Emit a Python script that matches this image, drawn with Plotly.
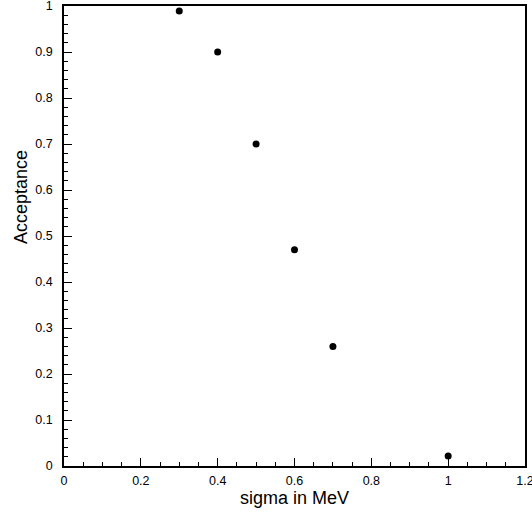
import plotly.graph_objects as go

sigma = [0.3, 0.4, 0.5, 0.6, 0.7, 1.0]
acceptance = [0.989, 0.90, 0.70, 0.47, 0.26, 0.022]

x_ticks = [0, 0.2, 0.4, 0.6, 0.8, 1, 1.2]
x_ticklabels = ["0", "0.2", "0.4", "0.6", "0.8", "1", "1.2"]
y_ticks = [0, 0.1, 0.2, 0.3, 0.4, 0.5, 0.6, 0.7, 0.8, 0.9, 1]
y_ticklabels = ["0", "0.1", "0.2", "0.3", "0.4", "0.5", "0.6", "0.7", "0.8", "0.9", "1"]
x_title = "sigma in MeV"
y_title = "Acceptance"

fig = go.Figure()
fig.add_trace(go.Scatter(
    x=sigma, y=acceptance, mode="markers",
    marker=dict(color="black", size=7),
    showlegend=False, cliponaxis=False,
))

font = "Liberation Sans, Arial, Helvetica, sans-serif"
axis_common = dict(
    showline=True, linecolor="black", linewidth=1.5, mirror=True,
    showgrid=False, zeroline=False, automargin=False,
    ticks="inside", ticklen=8, tickwidth=1.2, tickcolor="black",
    ticklabeloverflow="allow",
    tickfont=dict(family=font, size=12.5, color="black"),
)

fig.update_layout(
    width=532, height=514,
    margin=dict(l=64, r=7, t=6, b=48),
    paper_bgcolor="white", plot_bgcolor="white",
    font=dict(family=font, color="black"),
    xaxis=dict(
        range=[0, 1.2], tickvals=x_ticks, ticktext=x_ticklabels,
        minor=dict(ticks="inside", ticklen=4, tickwidth=1.2, tickcolor="black", dtick=0.05, tick0=0),
        ticklabelstandoff=2,
        **axis_common,
    ),
    yaxis=dict(
        range=[0, 1], tickvals=y_ticks, ticktext=y_ticklabels,
        minor=dict(ticks="inside", ticklen=4, tickwidth=1.2, tickcolor="black", dtick=0.02, tick0=0),
        ticklabelstandoff=7,
        **axis_common,
    ),
    annotations=[
        dict(text=x_title, xref="paper", yref="paper", x=0.501, y=-0.069,
             xanchor="center", yanchor="middle", showarrow=False,
             font=dict(family=font, size=18, color="black")),
        dict(text=y_title, xref="paper", yref="paper", x=-0.093, y=0.585,
             xanchor="center", yanchor="middle", showarrow=False, textangle=-90,
             font=dict(family=font, size=18, color="black")),
    ],
)

fig.write_html("out.html", config={"displayModeBar": False},
               post_script="document.body.style.margin='0px';")
